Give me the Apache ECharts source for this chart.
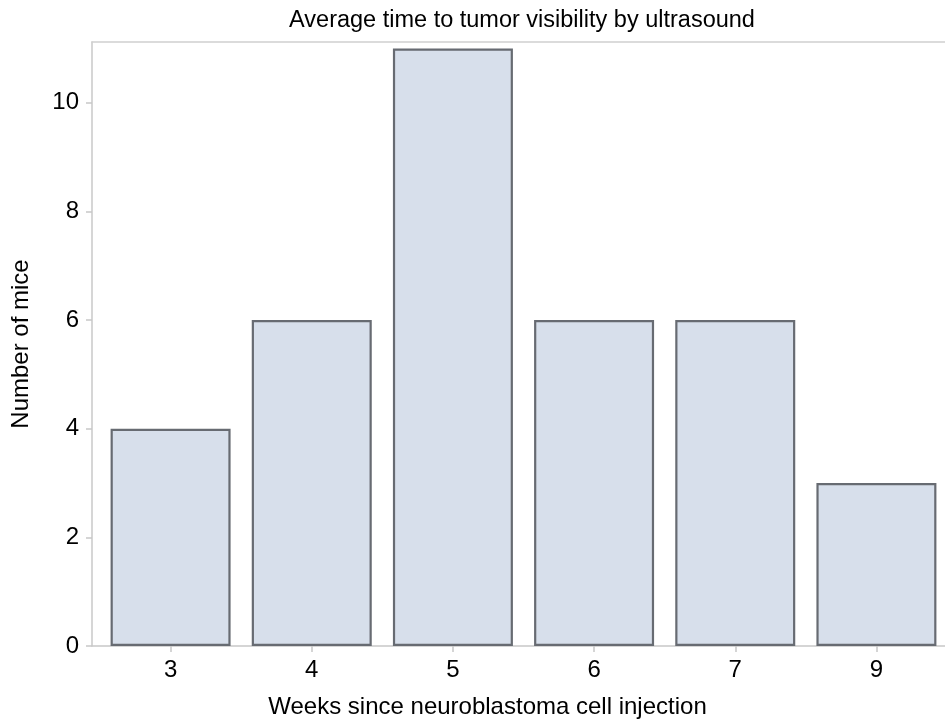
<!DOCTYPE html>
<html><head><meta charset="utf-8">
<script src="https://cdn.jsdelivr.net/npm/echarts@6/dist/echarts.min.js"></script>
<style>html,body{margin:0;padding:0;background:#fff}#c{width:945px;height:719px}</style>
</head><body><div id="c"></div>
<script>
const categories = ['3', '4', '5', '6', '7', '9'];
const mice = [4, 6, 11, 6, 6, 3];
const yTicks = [0, 2, 4, 6, 8, 10];
const titleText = 'Average time to tumor visibility by ultrasound';
const xName = 'Weeks since neuroblastoma cell injection';
const yName = 'Number of mice';

const font = 'Liberation Sans, Arial, sans-serif';
const yMax = 11.12;
const chart = echarts.init(document.getElementById('c'));
chart.setOption({
  animation: false,
  backgroundColor: '#fff',
  title: {
    text: titleText, left: 517, textAlign: 'center', top: 4,
    textStyle: {fontFamily: font, fontSize: 23.5, fontWeight: 'normal', color: '#000'}
  },
  grid: [
    {left: 100, right: -2, top: 42, bottom: 73, containLabel: false, outerBoundsMode: 'none'},
    {left: 92, right: -2, top: 42, bottom: 73, containLabel: false, outerBoundsMode: 'none'}
  ],
  xAxis: [
    {
      gridIndex: 0, type: 'category', data: categories,
      axisLine: {show: false},
      axisTick: {show: true, alignWithLabel: true, length: 6, lineStyle: {color: '#c8c8c8', width: 1.5}},
      axisLabel: {fontFamily: font, fontSize: 24, color: '#000', margin: 12},
      name: xName, nameLocation: 'middle', nameGap: 49,
      nameTextStyle: {fontFamily: font, fontSize: 24, color: '#000', padding: [0, 72, 0, 0]}
    },
    {
      gridIndex: 1, type: 'category', data: categories, position: 'bottom',
      axisLine: {show: true, lineStyle: {color: '#c8c8c8', width: 1.5}},
      axisTick: {show: false}, axisLabel: {show: false}
    },
    {
      gridIndex: 1, type: 'category', data: categories, position: 'top',
      axisLine: {show: true, lineStyle: {color: '#d0d0d0', width: 1.5}},
      axisTick: {show: false}, axisLabel: {show: false}
    }
  ],
  yAxis: [
    {
      gridIndex: 0, type: 'value', min: 0, max: yMax, show: false, splitLine: {show: false}
    },
    {
      gridIndex: 1, type: 'value', min: 0, max: yMax,
      axisLine: {show: true, lineStyle: {color: '#c8c8c8', width: 1.5}},
      axisTick: {show: true, length: 6, customValues: yTicks, lineStyle: {color: '#c8c8c8', width: 1.5}},
      axisLabel: {fontFamily: font, fontSize: 24, color: '#000', margin: 13, customValues: yTicks},
      splitLine: {show: false},
      name: yName, nameLocation: 'middle', nameGap: 59,
      nameTextStyle: {fontFamily: font, fontSize: 24, color: '#000'}
    }
  ],
  series: [{
    type: 'bar', xAxisIndex: 0, yAxisIndex: 0, data: mice,
    barWidth: 120,
    itemStyle: {color: '#d7dfeb', borderColor: '#676b72', borderWidth: 2.2}
  }]
});
</script></body></html>
